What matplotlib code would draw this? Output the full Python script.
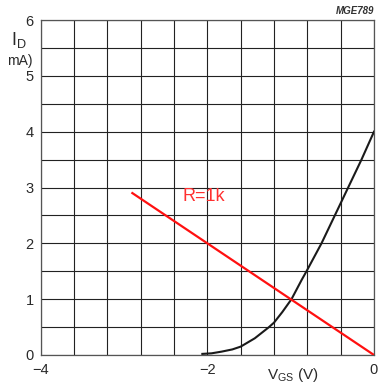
import matplotlib
matplotlib.use("Agg")
import matplotlib.pyplot as plt
import numpy as np

plt.rcParams['font.family'] = ['Liberation Sans', 'DejaVu Sans']
plt.rcParams['mathtext.fontset'] = 'custom'
plt.rcParams['mathtext.rm'] = 'Liberation Sans'

# transfer curve ID vs VGS
vgs = [-2.06, -1.95, -1.83, -1.7, -1.6, -1.43, -1.26, -1.2, -1.1, -0.99, -0.87, -0.81,
       -0.72, -0.63, -0.47, -0.31, -0.15, 0.0]
id_ma = [0.02, 0.03, 0.06, 0.1, 0.15, 0.3, 0.5, 0.58, 0.77, 1.0, 1.34, 1.5,
         1.75, 2.0, 2.5, 3.0, 3.5, 4.0]

# load line R = 1k
load_v = [-2.9, 0.0]
load_i = [2.9, 0.0]

xticks = [-4, -2, 0]
xticklabels = ['\u22124', '\u22122', '0']
yticks = [0, 1, 2, 3, 4, 5, 6]

fig = plt.figure(figsize=(3.81, 3.83), dpi=100)
ax = fig.add_axes([40.7/381, 1-355/383, (374-40.7)/381, (355-20)/383])

ax.set_xlim(-4, 0)
ax.set_ylim(0, 6)
for x in np.arange(-4, 0.001, 0.4):
    ax.axvline(x, color='#222222', lw=0.8, zorder=1)
for y in np.arange(0, 6.001, 0.5):
    ax.axhline(y, color='#222222', lw=0.8, zorder=1)
for s in ax.spines.values():
    s.set_color('#555555')
    s.set_linewidth(0.9)

ax.plot(vgs, id_ma, color='#1a1a1a', lw=1.5, zorder=3, solid_joinstyle='round')
ax.plot(load_v, load_i, color='#ff1010', lw=1.6, zorder=4)

ax.set_xticks(xticks)
ax.set_xticklabels(xticklabels)
ax.set_yticks(yticks)
ax.tick_params(length=0, labelsize=10.5, colors='#2a2a2a', pad=6)
ax.tick_params(axis='y', pad=5)

ax.text(-2.3, 2.84, 'R=1k', color='#ff3030', fontsize=13, ha='left', va='center', zorder=5)

fig.text(11/381, 1-40/383, r'$\mathregular{I_D}$', fontsize=13, color='#2a2a2a', ha='left', va='center')
fig.text(7/381, 1-61/383, 'mA)', fontsize=10, color='#2a2a2a', ha='left', va='center')
fig.text(374/381, 1-11/383, 'MGE789', fontsize=7, color='#333333', ha='right', va='center',
         fontweight='bold', fontstyle='italic')
fig.text(293/381, 1-375/383, r'$\mathregular{V_{GS}}$ (V)', fontsize=11, color='#2a2a2a',
         ha='center', va='center')

fig.savefig('out.png', dpi=100)
